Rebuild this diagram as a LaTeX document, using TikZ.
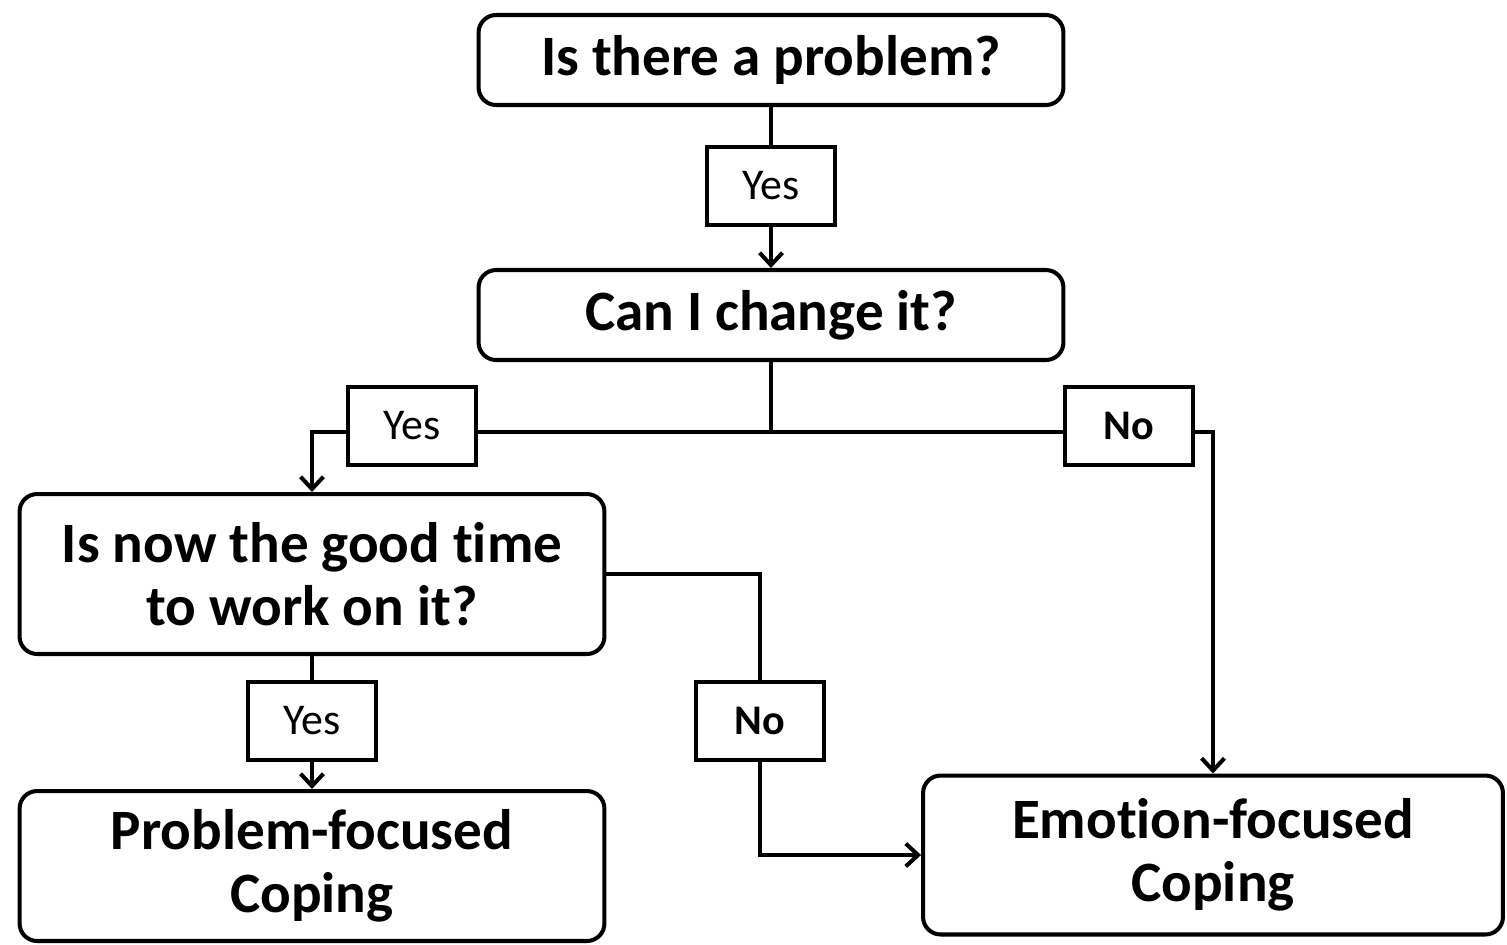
\documentclass[tikz,border=0pt]{standalone}
\usepackage{fontspec}
\setmainfont{Carlito}[RawFeature=-liga]
\usetikzlibrary{arrows.meta,positioning,calc}

\begin{document}
\begin{tikzpicture}[x=0.02cm,y=-0.02cm,
    line width=2.3pt,
    >={Straight Barb[length=7pt,width=13pt]},
    question/.style={draw,rounded corners=10pt,align=center,
      minimum width=11.7cm,minimum height=1.8cm,inner sep=2pt,
      font=\fontsize{32.5}{36}\selectfont\bfseries},
    answer/.style={draw,minimum width=2.55cm,minimum height=1.55cm,inner sep=2pt,
      font=\fontsize{25}{28}\selectfont},
    noanswer/.style={answer,font=\fontsize{24}{28}\selectfont\bfseries}
  ]
  \useasboundingbox (0,0) rectangle (1507,944);

  % boxes
  \node[question] (prob) at (771,60) {Is there a problem?};
  \node[answer] (yesA) at (771,186) {Yes};
  \node[question] (chg) at (771,315) {Can I change it?};
  \node[answer] (yesB) at (412,426) {Yes};
  \node[noanswer] (noB) at (1129,426) {No};
  \node[question,minimum height=3.2cm] (time) at (312,574) {Is now the good time\\to work on it?};
  \node[answer] (yesC) at (312,721) {Yes};
  \node[noanswer] (noC) at (760,721) {No};
  \node[question,minimum height=3.0cm] (pfc) at (312,866) {Problem-focused\\Coping};
  \node[question,minimum width=11.6cm,minimum height=3.18cm] (efc) at (1213,855) {Emotion-focused\\Coping};

  % connectors
  \draw (prob) -- (yesA);
  \draw[->] (yesA) -- (chg);
  \coordinate (split) at (771,432);
  \draw (chg) -- (split);
  \draw (split) -- (yesB.east |- split);
  \draw[->] (yesB.west |- split) -| (time.north);
  \draw (split) -- (noB.west |- split);
  \draw[->] (noB.east |- split) -| (efc.north);
  \draw (time) -- (yesC);
  \draw[->] (yesC) -- (pfc);
  \draw (time.east) -| (noC.north);
  \draw[->] (noC.south) |- (efc.west);
\end{tikzpicture}
\end{document}
